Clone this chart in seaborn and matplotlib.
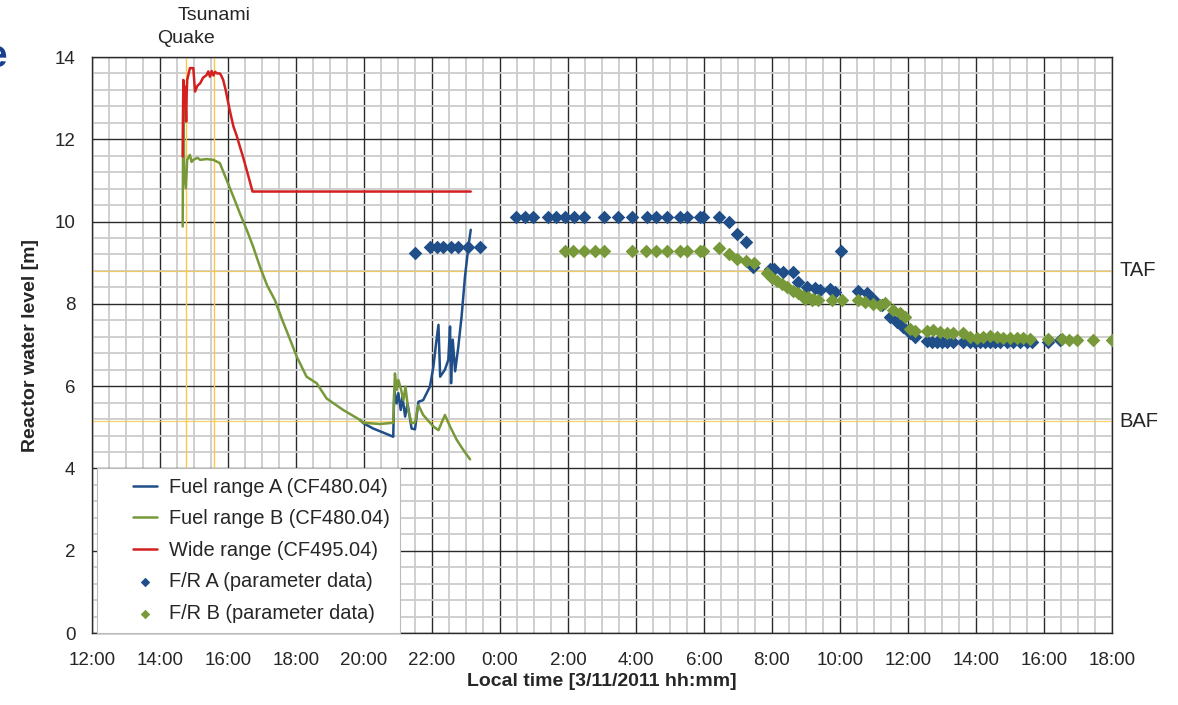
import numpy as np
import pandas as pd
import matplotlib
matplotlib.use("Agg")
import matplotlib.pyplot as plt
import seaborn as sns
from matplotlib.ticker import MultipleLocator, FuncFormatter
from matplotlib.lines import Line2D
from matplotlib.collections import PathCollection

# ---------------- data (hours since 3/11 00:00) ----------------
red_t = [14.667, 14.686, 14.70, 14.72, 14.735, 14.77, 14.785, 14.80, 14.83, 14.88,
         14.98, 15.03, 15.10, 15.18, 15.27, 15.37, 15.42, 15.47, 15.52, 15.57,
         15.62, 15.68, 15.76, 15.80, 15.86, 15.93, 16.01, 16.08, 16.16, 16.25,
         16.35, 16.45, 16.55, 16.65, 16.72, 23.14]
red_v = [11.58, 13.44, 12.90, 13.28, 13.28, 12.43, 13.10, 13.44, 13.55, 13.73,
         13.73, 13.16, 13.30, 13.36, 13.50, 13.56, 13.65, 13.52, 13.66, 13.55,
         13.64, 13.60, 13.60, 13.55, 13.44, 13.20, 12.87, 12.60, 12.31, 12.10,
         11.82, 11.55, 11.25, 10.95, 10.73, 10.73]

green_t = [14.667, 14.686, 14.71, 14.76, 14.80, 14.88, 14.93, 14.98, 15.10, 15.18,
           15.37, 15.57, 15.76, 15.96, 16.16, 16.35, 16.55, 16.74, 16.94, 17.15,
           17.38, 17.60, 17.87, 18.02, 18.31, 18.61, 18.90, 19.39, 19.88, 19.98,
           20.47, 20.86, 20.91, 20.96, 21.01, 21.08, 21.16, 21.22, 21.30, 21.40,
           21.50, 21.60, 21.74, 22.04, 22.19, 22.38, 22.53, 22.73, 22.92, 23.12]
green_v = [9.88, 13.44, 11.25, 10.81, 11.50, 11.62, 11.45, 11.50, 11.55, 11.50,
           11.52, 11.50, 11.42, 11.01, 10.60, 10.20, 9.80, 9.39, 8.90, 8.45,
           8.09, 7.60, 7.04, 6.72, 6.23, 6.07, 5.70, 5.42, 5.18, 5.11,
           5.08, 5.11, 6.31, 5.91, 6.15, 5.95, 5.66, 5.99, 5.42, 5.10,
           5.12, 5.54, 5.30, 5.02, 4.93, 5.30, 5.02, 4.69, 4.45, 4.22]

blue_t = [19.88, 19.98, 20.27, 20.57, 20.86, 20.89, 20.96, 21.01, 21.08, 21.13,
          21.21, 21.28, 21.40, 21.50, 21.60, 21.74, 21.94, 22.04, 22.12, 22.19,
          22.24, 22.38, 22.48, 22.53, 22.56, 22.61, 22.68, 22.77, 22.87, 22.97,
          23.07, 23.14]
blue_v = [5.18, 5.10, 4.97, 4.87, 4.77, 5.91, 5.58, 5.83, 5.42, 5.74,
          5.26, 5.58, 4.97, 4.95, 5.62, 5.66, 5.99, 6.47, 7.04, 7.49,
          6.23, 6.40, 6.64, 7.45, 6.07, 7.13, 6.36, 6.93, 7.69, 8.66,
          9.39, 9.80]

fra_t = [21.50, 21.94, 22.14, 22.33, 22.55, 22.77, 23.07, 23.41,
         24.47, 24.74, 24.98, 25.40, 25.65, 25.91, 26.18, 26.48, 27.06, 27.48,
         27.89, 28.31, 28.58, 28.90, 29.29, 29.49, 29.88, 29.98, 30.45,
         30.74, 30.96, 31.23, 31.45, 31.94, 32.06, 32.31, 32.63, 32.77,
         33.02, 33.26, 33.41, 33.71, 33.85, 34.03, 34.54, 34.78, 34.98,
         35.23, 35.47, 35.67, 35.86, 36.06, 36.21,
         36.55, 36.70, 36.84, 36.99, 37.14, 37.33, 37.63, 37.82, 37.97, 38.12,
         38.26, 38.41, 38.56, 38.71, 38.90, 39.10, 39.29, 39.49, 39.64,
         40.13, 40.47]
fra_v = [9.24, 9.37, 9.37, 9.37, 9.37, 9.37, 9.37, 9.39,
         10.10, 10.10, 10.10, 10.10, 10.10, 10.10, 10.10, 10.10, 10.10, 10.10,
         10.10, 10.10, 10.10, 10.10, 10.10, 10.10, 10.10, 10.10, 10.10,
         10.00, 9.71, 9.51, 8.89, 8.85, 8.85, 8.77, 8.77, 8.52,
         8.42, 8.38, 8.34, 8.36, 8.30, 9.29, 8.32, 8.26, 8.13,
         7.97, 7.69, 7.57, 7.43, 7.28, 7.20,
         7.10, 7.08, 7.08, 7.08, 7.08, 7.08, 7.08, 7.08, 7.08, 7.08,
         7.08, 7.08, 7.08, 7.08, 7.08, 7.08, 7.08, 7.08, 7.08,
         7.08, 7.12]

frb_t = [25.91, 26.16, 26.48, 26.79, 27.06, 27.89, 28.29, 28.58, 28.90, 29.29,
         29.49, 29.88, 29.98, 30.45, 30.74, 30.96, 31.23, 31.47, 31.84, 31.99,
         32.14, 32.28, 32.43, 32.63, 32.77, 32.92, 32.97, 33.07, 33.17, 33.21,
         33.36, 33.75, 34.05, 34.54, 34.74, 34.98, 35.18, 35.32, 35.57, 35.76,
         35.91, 36.06, 36.21, 36.55, 36.74, 36.94, 37.14, 37.33, 37.63, 37.82,
         38.02, 38.22, 38.41, 38.61, 38.80, 39.00, 39.20, 39.39, 39.59, 40.13,
         40.52, 40.74, 40.96, 41.45, 41.99]
frb_v = [9.29, 9.29, 9.29, 9.29, 9.29, 9.29, 9.29, 9.29, 9.29, 9.29,
         9.29, 9.29, 9.29, 9.35, 9.20, 9.09, 9.05, 9.00, 8.74, 8.64,
         8.56, 8.48, 8.40, 8.32, 8.26, 8.19, 8.13, 8.16, 8.10, 8.13,
         8.09, 8.09, 8.09, 8.09, 8.05, 8.00, 7.97, 8.01, 7.85, 7.77,
         7.67, 7.40, 7.35, 7.35, 7.36, 7.32, 7.30, 7.28, 7.28, 7.20,
         7.18, 7.20, 7.22, 7.20, 7.18, 7.18, 7.16, 7.16, 7.15, 7.14,
         7.15, 7.11, 7.11, 7.11, 7.11]

quake_t = 14.77
tsunami_t = 15.60
taf_level = 8.81
baf_level = 5.15

series_labels = ["Fuel range A (CF480.04)", "Fuel range B (CF480.04)",
                 "Wide range (CF495.04)", "F/R A (parameter data)",
                 "F/R B (parameter data)"]

# ---------------- style ----------------
sns.set_style("white")
plt.rcParams["font.family"] = ["Liberation Sans", "DejaVu Sans"]

BLUE = "#1f4e88"
GREEN = "#77993a"
RED = "#d42020"
ORANGE = "#f7c84a"

fig = plt.figure(figsize=(11.78, 7.05), dpi=100)
ax = fig.add_axes([92 / 1178, 1 - 633 / 705, 1020 / 1178, 576 / 705])

df_blue = pd.DataFrame({"t": blue_t, "v": blue_v})
df_green = pd.DataFrame({"t": green_t, "v": green_v})
df_red = pd.DataFrame({"t": red_t, "v": red_v})
df_fra = pd.DataFrame({"t": fra_t, "v": fra_v})
df_frb = pd.DataFrame({"t": frb_t, "v": frb_v})

# reference lines
ax.axvline(quake_t, color=ORANGE, lw=1.0, zorder=1.5)
ax.axvline(tsunami_t, color=ORANGE, lw=1.0, zorder=1.5)
ax.axhline(taf_level, color=ORANGE, lw=0.9, zorder=1.5, alpha=0.8)
ax.axhline(baf_level, color=ORANGE, lw=0.9, zorder=1.5, alpha=0.8)

sns.lineplot(data=df_blue, x="t", y="v", ax=ax, color=BLUE, lw=1.8,
             sort=False, estimator=None, label=series_labels[0], zorder=3)
sns.lineplot(data=df_green, x="t", y="v", ax=ax, color=GREEN, lw=1.8,
             sort=False, estimator=None, label=series_labels[1], zorder=3)
sns.lineplot(data=df_red, x="t", y="v", ax=ax, color=RED, lw=1.8,
             sort=False, estimator=None, label=series_labels[2], zorder=3)
sns.scatterplot(data=df_fra, x="t", y="v", ax=ax, color=BLUE, marker="D",
                s=48, linewidth=0, label=series_labels[3], zorder=4)
sns.scatterplot(data=df_frb, x="t", y="v", ax=ax, color=GREEN, marker="D",
                s=48, linewidth=0, label=series_labels[4], zorder=4)

# axes
ax.set_xlim(12, 42)
ax.set_ylim(0, 14)
ax.xaxis.set_major_locator(MultipleLocator(2))
ax.xaxis.set_minor_locator(MultipleLocator(0.5))
ax.yaxis.set_major_locator(MultipleLocator(2))
ax.yaxis.set_minor_locator(MultipleLocator(0.4))
ax.xaxis.set_major_formatter(FuncFormatter(lambda x, p: f"{int(round(x)) % 24}:00"))
ax.yaxis.set_major_formatter(FuncFormatter(lambda y, p: f"{int(round(y))}"))

ax.grid(which="minor", color="#cccccc", lw=1.3, zorder=0)
ax.grid(which="major", color="#2a2a2a", lw=1.0, zorder=0.5)
ax.set_axisbelow(True)
for s in ax.spines.values():
    s.set_color("#2a2a2a")
    s.set_linewidth(1.0)
ax.tick_params(which="major", direction="inout", length=10, width=1.0,
               color="#2a2a2a", labelsize=13.5)
ax.tick_params(axis="y", which="major", pad=7)
ax.tick_params(axis="x", which="major", pad=8.5)
ax.tick_params(which="minor", length=0)

ax.set_xlabel("Local time [3/11/2011 hh:mm]", fontsize=14, fontweight="bold",
              labelpad=3)
ax.set_ylabel("Reactor water level [m]", fontsize=14, fontweight="bold",
              labelpad=11)

# annotations
ax.text(1.007, taf_level, "TAF", transform=ax.get_yaxis_transform(),
        fontsize=14.5, va="center", ha="left")
ax.text(1.007, baf_level, "BAF", transform=ax.get_yaxis_transform(),
        fontsize=14.5, va="center", ha="left")
ax.text(quake_t, 14.46, "Quake", fontsize=14, ha="center", va="center",
        clip_on=False)
ax.text(tsunami_t, 15.02, "Tsunami", fontsize=14, ha="center", va="center",
        clip_on=False)
fig.text(0.006, 1 - 67 / 705, "e", color="#1a3f8f", fontsize=28,
         fontweight="bold", va="baseline", ha="right")

# legend
LFS = 14.4
leg = ax.legend(loc="lower left", bbox_to_anchor=(5 / 1020, 0.0), borderaxespad=0,
                frameon=True, fancybox=False, fontsize=LFS, labelspacing=0.63,
                handlelength=2.6, handletextpad=0.52, borderpad=0.5,
                markerscale=0.7)
leg.get_frame().set_edgecolor("#bbbbbb")
leg.get_frame().set_linewidth(0.8)
leg.get_frame().set_facecolor("white")
leg.get_frame().set_alpha(1.0)
leg.set_zorder(10)

# shift handles inside the handle box: short line, centred to the right
px2pt = 72 / 100
for h in leg.legend_handles:
    if isinstance(h, Line2D):
        yd = np.asarray(h.get_ydata(), dtype=float)
        h.set_data(np.linspace(26 * px2pt, 50 * px2pt, len(yd)), yd)
    elif isinstance(h, PathCollection):
        off = np.array(h.get_offsets(), dtype=float)
        off[:, 0] = 38 * px2pt
        h.set_offsets(off)

fig.savefig("out.png", dpi=100)
